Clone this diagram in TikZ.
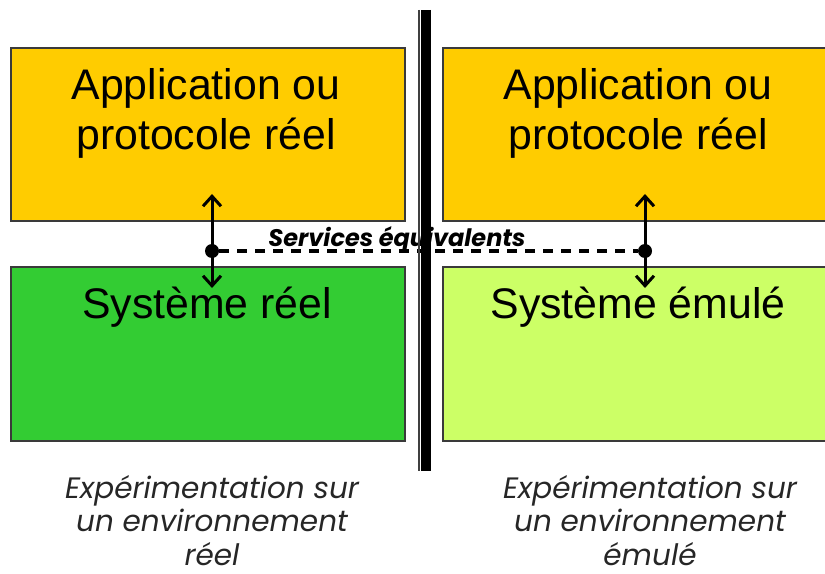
\documentclass[tikz,border=0pt]{standalone}
\usepackage{fontspec}
\setmainfont{Liberation Sans}
\newfontfamily\gothic{Poppins}
\usetikzlibrary{arrows.meta}
\definecolor{appyellow}{HTML}{FFCC00}
\definecolor{realgreen}{HTML}{33CC33}
\definecolor{emugreen}{HTML}{CCFF66}
\definecolor{boxborder}{HTML}{3A3A3A}
\tikzset{
  box/.style={draw=boxborder, line width=1.3bp, inner sep=0pt, outer sep=0pt, anchor=north west},
  boxtext/.style={font=\fontsize{42.8bp}{50bp}\selectfont, align=center, anchor=base, inner sep=0pt},
  captext/.style={font=\gothic\itshape\fontsize{29.5bp}{33.5bp}\selectfont, text=black!85, align=center, anchor=base, inner sep=0pt},
  servtext/.style={font=\gothic\bfseries\itshape\fontsize{24bp}{26bp}\selectfont, anchor=base, inner sep=0pt},
  dot/.style={circle, fill=black, inner sep=0pt, minimum size=14bp},
  twoarrow/.style={line width=3bp, {Straight Barb[length=10bp,width=18bp]}-{Straight Barb[length=10bp,width=18bp]}},
  dashline/.style={line width=3.8bp, dash pattern=on 10bp off 8bp},
}
\begin{document}
\begin{tikzpicture}[x=1bp,y=-1bp]
\useasboundingbox (0,0) rectangle (825,574);
\clip (0,0) rectangle (825,574);
% boxes
\node[box, fill=appyellow, minimum width=394bp, minimum height=173bp] (appL) at (11,48) {};
\node[box, fill=realgreen, minimum width=394bp, minimum height=174bp] (sysL) at (11,267) {};
\node[box, fill=appyellow, minimum width=388bp, minimum height=173bp] (appR) at (443,48) {};
\node[box, fill=emugreen, minimum width=388bp, minimum height=174bp] (sysR) at (443,267) {};
% box texts (anchor = baseline of last line)
\node[boxtext] (appLt) at (206,150) {Application ou\\protocole réel};
\node[boxtext] (sysLt) at (207,318) {Système réel};
\node[boxtext] (appRt) at (638,150) {Application ou\\protocole réel};
\node[boxtext] (sysRt) at (638,318) {Système émulé};
% captions
\node[captext] (capL) at (212,565) {Expérimentation sur\\un environnement\\réel};
\node[captext] (capR) at (650,565) {Expérimentation sur\\un environnement\\émulé};
% services link
\node[dot] (cL) at (212,251) {};
\node[dot] (cR) at (645,251) {};
\draw[dashline] (cL) -- (cR);
\node[servtext] (serv) at (397,247) {Services équivalents};
\coordinate (aLtop) at (212,194);
\coordinate (aLbot) at (212,288);
\coordinate (aRtop) at (645,194);
\coordinate (aRbot) at (645,288);
\draw[twoarrow] (aLtop) -- (aLbot);
\draw[twoarrow] (aRtop) -- (aRbot);
% separator (thin + thick)
\coordinate (sepTt) at (419,10);
\coordinate (sepTb) at (419,471);
\coordinate (sepKt) at (425.8,10);
\coordinate (sepKb) at (425.8,471);
\draw[line width=1.6bp, black!75] (sepTt) -- (sepTb);
\draw[line width=9.6bp, black] (sepKt) -- (sepKb);
\end{tikzpicture}
\end{document}
